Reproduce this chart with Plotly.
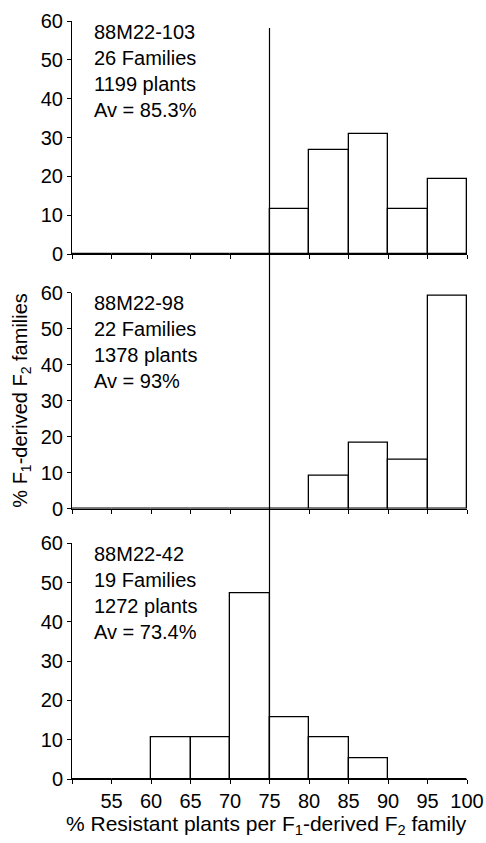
import plotly.graph_objects as go

bin_lower = [50, 55, 60, 65, 70, 75, 80, 85, 90, 95]
bin_width = 5
lines_103 = [0, 0, 0, 0, 0, 11.5, 26.9, 30.8, 11.5, 19.2]
lines_98 = [0, 0, 0, 0, 0, 0, 9.1, 18.2, 13.6, 59.1]
lines_42 = [0, 0, 10.5, 10.5, 47.4, 15.8, 10.5, 5.3, 0, 0]
panel_names = ["88M22-103", "88M22-98", "88M22-42"]
panel_families = [26, 22, 19]
panel_plants = [1199, 1378, 1272]
panel_avg = [85.3, 93, 73.4]
avg_labels = ["85.3%", "93%", "73.4%"]
x_ticks = [50, 55, 60, 65, 70, 75, 80, 85, 90, 95, 100]
x_ticklabels = ["", "55", "60", "65", "70", "75", "80", "85", "90", "95", "100"]
y_ticks = [0, 10, 20, 30, 40, 50, 60]
threshold = 75

series = [lines_103, lines_98, lines_42]
FONT = "Liberation Sans, Arial, sans-serif"

W, H = 486, 843
ml, mr, mt, mb = 72, 19, 21, 64
ph = H - mt - mb
pw = W - ml - mr

def pfrac(px):
    return (H - mb - px) / ph

def xfrac(px):
    return (px - ml) / pw

domains = [
    [pfrac(254), 1.0],
    [pfrac(508.7), pfrac(292.7)],
    [0.0, pfrac(543.3)],
]

fig = go.Figure()
centers = [b + bin_width / 2 for b in bin_lower]

for i, vals in enumerate(series):
    k = "" if i == 0 else str(i + 1)
    fig.add_trace(go.Bar(
        x=centers, y=vals, width=bin_width,
        marker=dict(color="white", line=dict(color="black", width=1.3)),
        xaxis="x" + k, yaxis="y" + k, showlegend=False, hoverinfo="skip",
    ))
    fig.add_trace(go.Scatter(
        x=[panel_avg[i]], y=[-1.25], mode="markers",
        marker=dict(symbol="triangle-up", size=8, color="black"),
        xaxis="x" + k, yaxis="y" + k, showlegend=False, cliponaxis=False,
        hoverinfo="skip",
    ))
    fig.add_annotation(
        x=xfrac(92), y=domains[i][1] + 0.003, xref="paper", yref="paper",
        xanchor="left", yanchor="top", align="left", showarrow=False,
        text=(f"{panel_names[i]}<br>{panel_families[i]} Families<br>"
              f"{panel_plants[i]} plants<br>Av = {avg_labels[i]}"),
        font=dict(family=FONT, size=20, color="black"),
    )
    xa = dict(
        domain=[0, 1], range=[50, 100], showline=True, linecolor="black",
        linewidth=1, ticks="outside", ticklen=4, tickcolor="black",
        tickvals=x_ticks, ticktext=x_ticklabels, showgrid=False,
        zeroline=False, showticklabels=(i == 2), automargin=False,
        tickfont=dict(family=FONT, size=20, color="black"),
        anchor="y" + k, fixedrange=True,
    )
    ya = dict(
        domain=domains[i], range=[0, 60], showline=True, linecolor="black",
        linewidth=1, ticks="outside", ticklen=4, tickcolor="black",
        tickvals=y_ticks, showgrid=False, zeroline=False, automargin=False,
        tickfont=dict(family=FONT, size=20, color="black"),
        anchor="x" + k, fixedrange=True,
    )
    fig.update_layout(**{"xaxis" + k: xa, "yaxis" + k: ya})

fig.add_shape(
    type="line", xref="x3", yref="paper", x0=threshold, x1=threshold,
    y0=0, y1=pfrac(28), line=dict(color="black", width=1.2),
)

fig.add_annotation(
    x=xfrac(22), y=(domains[1][0] + domains[1][1]) / 2, xref="paper", yref="paper",
    text="% F<sub>1</sub>-derived F<sub>2</sub> families", textangle=-90,
    showarrow=False, xanchor="center", yanchor="middle",
    font=dict(family=FONT, size=20, color="black"),
)

fig.add_annotation(
    x=xfrac(266), y=pfrac(825), xref="paper", yref="paper",
    text="% Resistant plants per F<sub>1</sub>-derived F<sub>2</sub> family",
    showarrow=False, xanchor="center", yanchor="middle",
    font=dict(family=FONT, size=21, color="black"),
)

fig.update_layout(
    template="none",
    width=W, height=H, margin=dict(l=ml, r=mr, t=mt, b=mb, autoexpand=False),
    paper_bgcolor="white", plot_bgcolor="white", bargap=0,
    font=dict(family=FONT, color="black"),
)

fig.write_html(
    "out.html",
    config={"displayModeBar": False},
    post_script="document.body.style.margin='0';document.body.style.overflow='hidden';",
)
